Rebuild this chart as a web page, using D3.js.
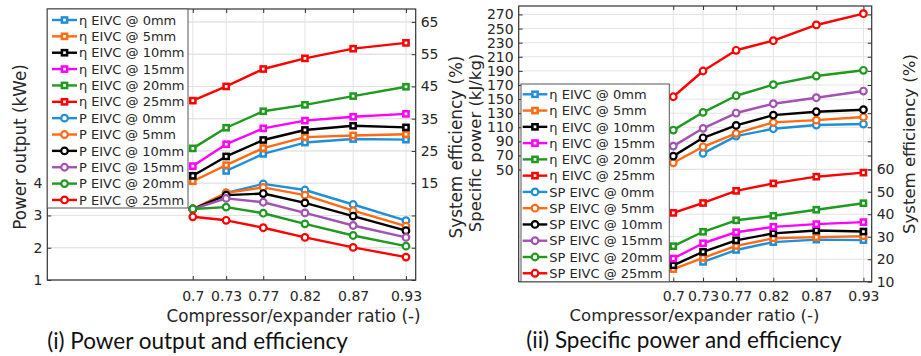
<!DOCTYPE html>
<html>
<head>
<meta charset="utf-8">
<script src="https://cdn.jsdelivr.net/npm/d3@7/dist/d3.min.js"></script>
<style>
  html, body { margin: 0; padding: 0; background: #fff; }
  svg { display: block; }
</style>
</head>
<body>
<svg id="chart" width="921" height="356"></svg>
<script>
// ---------------- data ----------------
const xValues = [0.7, 0.736, 0.776, 0.821, 0.873, 0.93];
const xTickLabels = ["0.7", "0.73", "0.77", "0.82", "0.87", "0.93"];
const eivcLabels = ["0mm", "5mm", "10mm", "15mm", "20mm", "25mm"];

// system efficiency (%) for each EIVC
const eta0  = [null, 18.8, 24.1, 27.6, 28.7, 28.5];
const eta5  = [15.6, 20.6, 25.9, 29.3, 29.8, 30.2];
const eta10 = [17.3, 23.3, 28.4, 31.5, 32.8, 32.3];
const eta15 = [20.3, 27.1, 32.0, 34.4, 35.6, 36.5];
const eta20 = [25.8, 32.2, 37.3, 39.3, 42.0, 44.9];
const eta25 = [40.6, 45.0, 50.4, 53.7, 56.7, 58.5];

// power output (kWe)
const power0  = [null, 3.70, 3.98, 3.79, 3.34, 2.84];
const power5  = [3.20, 3.70, 3.87, 3.63, 3.15, 2.67];
const power10 = [3.20, 3.63, 3.68, 3.39, 2.98, 2.53];
const power15 = [3.20, 3.53, 3.41, 3.08, 2.69, 2.32];
const power20 = [3.20, 3.26, 3.07, 2.74, 2.38, 2.05];
const power25 = [2.96, 2.85, 2.62, 2.32, 2.01, 1.71];

// specific power (kJ/kg)
const sp0  = [null, 73.0, 97.5, 107.9, 113.2, 114.6];
const sp5  = [59.6, 82.3, 101.4, 117.0, 120.2, 124.5];
const sp10 = [69.1, 95.1, 112.7, 127.3, 132.0, 134.9];
const sp15 = [83.3, 108.5, 130.2, 143.4, 151.9, 161.4];
const sp20 = [106.0, 131.2, 154.7, 170.4, 182.7, 190.8];
const sp25 = [153.3, 189.8, 219.2, 232.8, 255.1, 271.1];

// axis ticks
const powerTicks = [1, 2, 3, 4, 5, 6, 7, 8, 9];
const powerTickLabels = ["1", "2", "3", "4", "", "", "", "", ""];
const effTicksLeft = [-15, -5, 5, 15, 25, 35, 45, 55, 65];
const effTickLabelsLeft = ["", "", "", "15", "25", "35", "45", "55", "65"];
const spTicks = [50, 70, 90, 110, 130, 150, 170, 190, 210, 230, 250, 270];
const effTicksRight = [10, 20, 30, 40, 50, 60];

const etaSeries = [eta0, eta5, eta10, eta15, eta20, eta25];
const powerSeries = [power0, power5, power10, power15, power20, power25];
const spSeries = [sp0, sp5, sp10, sp15, sp20, sp25];

const etaColors = ["#1f8fda", "#ff6a13", "#000000", "#ff00ff", "#1f9a1f", "#ff0000"];
const secColors = ["#1f8fda", "#ff6a13", "#000000", "#a352b3", "#1f9a1f", "#ff0000"];

// ---------------- drawing ----------------
const svg = d3.select("#chart");
svg.append("rect").attr("width", 921).attr("height", 356).attr("fill", "#fff");

const AX_FONT = "'DejaVu Sans', Verdana, sans-serif";
const TITLE_FONT = "Lato, 'Open Sans', sans-serif";
const TXT = "#262626";

function drawMarker(sel, cx, cy, color, marker) {
  if (marker === "square") {
    sel.append("rect").attr("x", cx - 2.6).attr("y", cy - 2.6).attr("width", 5.2).attr("height", 5.2)
      .attr("fill", "#fff").attr("stroke", color).attr("stroke-width", 2.5);
  } else {
    sel.append("circle").attr("cx", cx).attr("cy", cy).attr("r", 3.3)
      .attr("fill", "#fff").attr("stroke", color).attr("stroke-width", 2.2);
  }
}

function drawPanel(p) {
  const g = svg.append("g");
  const x = d3.scaleLinear().domain(p.xDomain).range([p.left, p.right]);
  const yL = d3.scaleLinear().domain(p.yLDomain).range([p.bottom, p.top]);
  const yR = d3.scaleLinear().domain(p.yRDomain).range([p.bottom, p.top]);

  // grid
  const grid = g.append("g").attr("stroke", "#e3e3e3").attr("stroke-width", 1);
  xValues.forEach(v => grid.append("line")
    .attr("x1", x(v)).attr("x2", x(v)).attr("y1", p.top).attr("y2", p.bottom));
  p.yLTicks.forEach(v => grid.append("line")
    .attr("x1", p.left).attr("x2", p.right).attr("y1", yL(v)).attr("y2", yL(v)));
  p.yRTicks.forEach(v => grid.append("line")
    .attr("x1", p.left).attr("x2", p.right).attr("y1", yR(v)).attr("y2", yR(v)));

  // axes
  const fmtX = (d, i) => xTickLabels[i];
  const axB = g.append("g").attr("transform", `translate(0,${p.bottom})`)
    .call(d3.axisBottom(x).tickValues(xValues).tickFormat(fmtX).tickSize(-4).tickPadding(p.xPad));
  const axT = g.append("g").attr("transform", `translate(0,${p.top})`)
    .call(d3.axisTop(x).tickValues(xValues).tickFormat("").tickSize(-4));
  const axL = g.append("g").attr("transform", `translate(${p.left},0)`)
    .call(d3.axisLeft(yL).tickValues(p.yLTicks).tickFormat((d, i) => p.yLLabels[i]).tickSize(-4).tickPadding(5));
  const axR = g.append("g").attr("transform", `translate(${p.right},0)`)
    .call(d3.axisRight(yR).tickValues(p.yRTicks).tickFormat((d, i) => p.yRLabels[i]).tickSize(-4).tickPadding(5));
  const extra = [];
  if (p.mirrorLeft) {
    extra.push(g.append("g").attr("transform", `translate(${p.right},0)`)
      .call(d3.axisRight(yL).tickValues(p.yLTicks).tickFormat("").tickSize(-4)));
  }
  [axB, axT, axL, axR, ...extra].forEach(a => {
    a.select(".domain").remove();
    a.selectAll("line").attr("stroke", "#333");
    a.selectAll("text").attr("fill", TXT).style("font-family", AX_FONT).style("font-size", p.tickFont + "px");
  });

  // box
  g.append("rect").attr("x", p.left).attr("y", p.top)
    .attr("width", p.right - p.left).attr("height", p.bottom - p.top)
    .attr("fill", "none").attr("stroke", "#333").attr("stroke-width", 1.2);

  // series
  const lineGen = (ys) => d3.line().defined(d => d[1] != null)
    .x(d => x(d[0])).y(d => ys(d[1]));

  function drawSeries(data, color, ys, marker) {
    const pts = xValues.map((v, i) => [v, data[i]]);
    g.append("path").datum(pts).attr("d", lineGen(ys))
      .attr("fill", "none").attr("stroke", color).attr("stroke-width", 2.4)
      .attr("stroke-linejoin", "round");
    pts.filter(d => d[1] != null).forEach(d => drawMarker(g, x(d[0]), ys(d[1]), color, marker));
  }
  etaSeries.forEach((s, i) => drawSeries(s, etaColors[i], yR, "square"));
  p.secSeries.forEach((s, i) => drawSeries(s, secColors[i], yL, "circle"));

  // legend
  const lg = g.append("g");
  lg.append("rect").attr("x", p.leg.x).attr("y", p.leg.y).attr("width", p.leg.w).attr("height", p.leg.h)
    .attr("fill", "#fff").attr("stroke", "#555").attr("stroke-width", 1);
  const entries = [];
  eivcLabels.forEach((l, i) => entries.push({ label: "η EIVC @ " + l, color: etaColors[i], marker: "square" }));
  eivcLabels.forEach((l, i) => entries.push({ label: p.secName + " EIVC @ " + l, color: secColors[i], marker: "circle" }));
  entries.forEach((e, i) => {
    const yy = p.leg.y0 + i * p.leg.dy;
    lg.append("line").attr("x1", p.leg.lx0).attr("x2", p.leg.lx1).attr("y1", yy).attr("y2", yy)
      .attr("stroke", e.color).attr("stroke-width", 2.4);
    drawMarker(lg, (p.leg.lx0 + p.leg.lx1) / 2, yy, e.color, e.marker);
    lg.append("text").attr("x", p.leg.lx1 + 2).attr("y", yy).attr("dy", "0.36em")
      .attr("fill", TXT).style("font-family", AX_FONT).style("font-size", "13px").text(e.label);
  });

  // labels
  const lab = (txt, cx, cy, rot, size, font, fill) => svg.append("text")
    .attr("transform", `translate(${cx},${cy}) rotate(${rot})`)
    .attr("text-anchor", "middle").attr("dy", "0.35em")
    .attr("fill", fill).style("font-family", font).style("font-size", size + "px").text(txt);
  lab(p.yLTitle, p.yLTitlePos[0], p.yLTitlePos[1], -90, p.labFont, AX_FONT, TXT);
  lab(p.yRTitle, p.yRTitlePos[0], p.yRTitlePos[1], -90, p.labFont, AX_FONT, TXT);
  lab("Compressor/expander ratio (-)", p.xTitlePos[0], p.xTitlePos[1], 0, p.labFont, AX_FONT, TXT);
  lab(p.caption, p.capPos[0], p.capPos[1], 0, p.capFont, TITLE_FONT, "#111");
}

// Panel (i)
drawPanel({
  left: 47.3, right: 415.7, top: 9, bottom: 280,
  xDomain: [0.543, 0.9405], yLDomain: [1, 9.4], yRDomain: [-15, 69],
  yLTicks: powerTicks, yLLabels: powerTickLabels,
  yRTicks: effTicksLeft, yRLabels: effTickLabelsLeft,
  mirrorLeft: false,
  secSeries: powerSeries, secName: "P",
  xPad: 11, tickFont: 14, labFont: 16.8, capFont: 22.5,
  leg: { x: 47.3, y: 9, w: 140.7, h: 199, y0: 20, dy: 16.36, lx0: 52, lx1: 77 },
  yLTitle: "Power output (kWe)", yLTitlePos: [20.5, 147],
  yRTitle: "System efficiency (%)", yRTitlePos: [456, 147],
  xTitlePos: [293.5, 316], caption: "(i) Power output and efficiency", capPos: [197.5, 341]
});

// Panel (ii)
drawPanel({
  left: 518.7, right: 871.7, top: 6, bottom: 281.7,
  xDomain: [0.513, 0.940], yLDomain: [-109, 282], yRDomain: [10, 132.6],
  yLTicks: spTicks, yLLabels: spTicks.map(String),
  yRTicks: effTicksRight, yRLabels: effTicksRight.map(String),
  mirrorLeft: true,
  secSeries: spSeries, secName: "SP",
  xPad: 9, tickFont: 14, labFont: 16.5, capFont: 22.5,
  leg: { x: 521, y: 84, w: 148.3, h: 197.7, y0: 94.3, dy: 16.27, lx0: 522.7, lx1: 547.3 },
  yLTitle: "Specific power (kJ/kg)", yLTitlePos: [475, 143],
  yRTitle: "System efficiency (%)", yRTitlePos: [909, 144],
  xTitlePos: [694.5, 315], caption: "(ii) Specific power and efficiency", capPos: [684, 340]
});
</script>
</body>
</html>
